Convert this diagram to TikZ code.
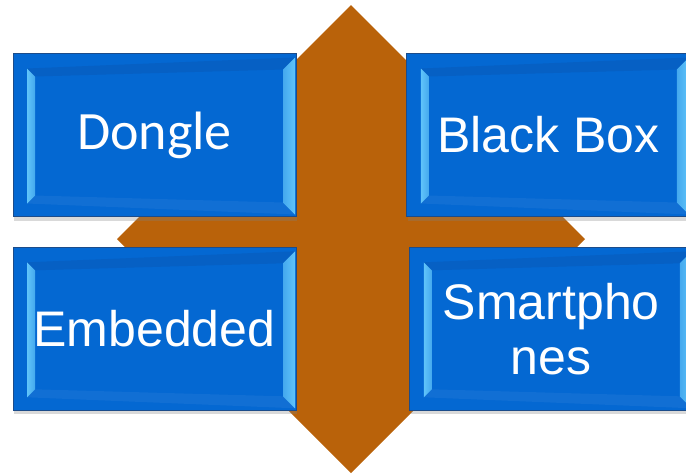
\documentclass[tikz,border=0pt]{standalone}
\usepackage{fontspec}
\setmainfont{Liberation Sans}
\newfontfamily\cbfont{Carlito}
\usetikzlibrary{positioning}
\usetikzlibrary{calc}
\usetikzlibrary{shadows}
\definecolor{mblue}{RGB}{4,104,210}
\definecolor{mlight}{RGB}{96,196,250}
\definecolor{mdark}{RGB}{6,96,196}
\definecolor{mline}{RGB}{28,76,138}
\definecolor{morange}{RGB}{185,98,10}
\tikzset{bevel/.style = {path picture={
           \path (path picture bounding box.north west) coordinate (nw)
                 (path picture bounding box.north east) coordinate (ne)
                 (path picture bounding box.south east) coordinate (se)
                 (path picture bounding box.south west) coordinate (sw);
           \fill [mdark] ($(nw)+(14,15)$) -- ($(ne)+(-1,4)$) -- ($(ne)+(-13,16)$) -- ($(nw)+(22,23)$) -- cycle;
           \fill [mblue!95!white] ($(sw)+(14,-13)$) -- ($(se)+(-1,-2)$) -- ($(se)+(-13,-14)$) -- ($(sw)+(22,-21)$) -- cycle;
           \shade [left color=mlight, right color=mlight!70!mblue] ($(nw)+(14,15)$) -- ($(nw)+(22,23)$) -- ($(sw)+(22,-21)$) -- ($(sw)+(14,-13)$) -- cycle;
           \shade [left color=mlight!70!mblue, right color=mlight] ($(ne)+(-1,4)$) -- ($(ne)+(-13,16)$) -- ($(se)+(-13,-14)$) -- ($(se)+(-1,-2)$) -- cycle;}},
        tile/.style = {rectangle, draw=mline, line width=0.8pt, fill=mblue, bevel,
                       minimum width=283pt, minimum height=163pt, inner sep=0pt,
                       text=white, align=center, font=\fontsize{50}{55}\selectfont,
                       drop shadow={shadow xshift=1pt, shadow yshift=-4pt, opacity=0.3}}}

\begin{document}
\begin{tikzpicture}[x=1pt, y=-1pt]
    \useasboundingbox (0, 0) rectangle (686, 475);

    \fill [morange] (351, 5) -- (585, 239) -- (351, 473) -- (117, 239) -- cycle;

    \node [tile, font=\cbfont\fontsize{54}{60}\selectfont] (dongle) at (154.5, 135) {Dongle};
    \node [tile, right=110pt of dongle] (blackbox) {Black Box};
    \node [tile, below=30pt of dongle] (embedded) {Embedded};
    \node [tile, right=113pt of embedded] (smart) {Smartpho\\nes};
\end{tikzpicture}
\end{document}
